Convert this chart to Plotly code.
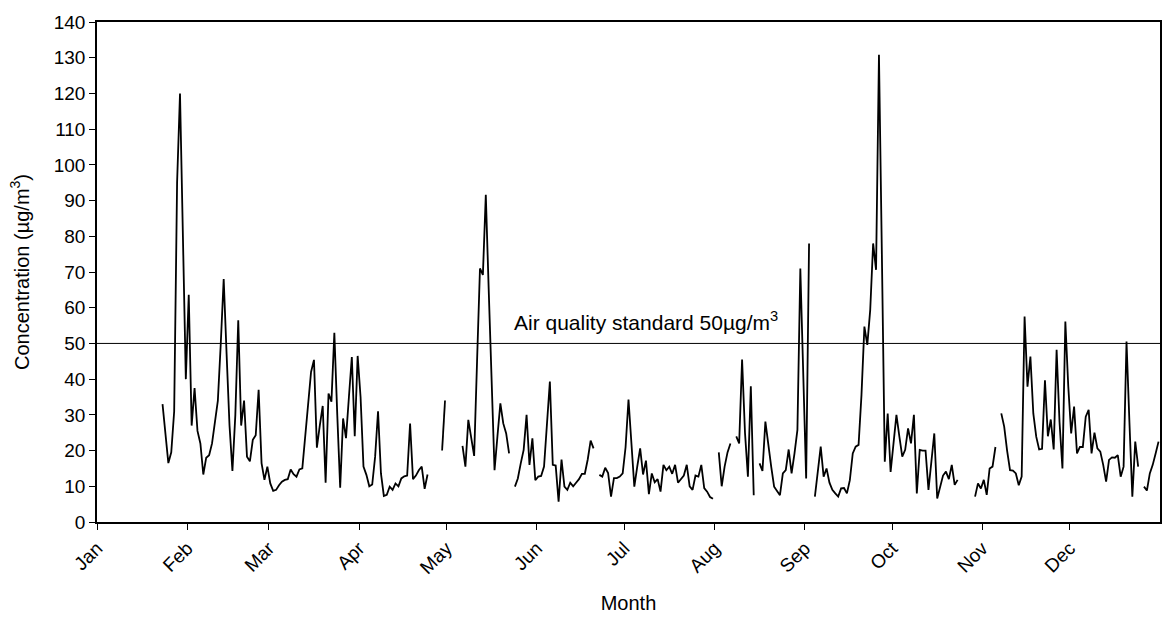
import datetime as dt
import plotly.graph_objects as go

year = 2007
month_names = ["Jan", "Feb", "Mar", "Apr", "May", "Jun",
               "Jul", "Aug", "Sep", "Oct", "Nov", "Dec"]

# daily concentration values (µg/m3), one entry per day, None = missing
jan = [None] * 22 + [33, 24, 16.5, 19.5, 31, 95, 120, 80, 40]
feb = [63.6, 27, 37.5, 25.5, 22, 13.3, 18, 18.7, 22, 28, 34, 50, 68, 47, 27, 14.3,
       30, 56.5, 27, 34, 18.3, 17, 23, 24.3, 37, 16.5, 11.8, 15.5]
mar = [10.8, 8.7, 9, 10.3, 11.3, 11.8, 12, 14.7, 13.4, 12.7, 14.7, 15, 24, 31.4, 42,
       45.4, 20.8, 27, 32.5, 11, 36, 33.7, 53, 30, 9.6, 29, 23.5, 35, 46.2, 24, 46.5]
apr = [35, 15.5, 13.2, 10, 10.5, 18.3, 31, 13.6, 7.3, 7.6, 9.9, 9, 10.8, 10, 12.2,
       12.8, 13, 27.6, 12, 13, 14.5, 15.5, 9.3, 13.3, None, None, None, None, 20, 34]
may = [None] * 5 + [21.3, 15.5, 28.6, 23.5, 18.5, 45, 71, 69.2, 91.6, 65, 40, 14.5,
                    24, 33.2, 27.6, 24.8, 19.2, None, 9.9, 12.2, 16.4, 20.2, 30, 16,
                    23.4, 11.7]
jun = [12.7, 12.9, 15.5, 28, 39.3, 16, 15.8, 5.7, 17.5, 9.9, 9, 11, 10, 11, 12, 13.5,
       13.5, 17.5, 22.8, 20.6, None, 13.2, 12.7, 15.2, 13.7, 7.1, 12.3, 12.3, 12.7, 13.6]
jul = [21, 34.3, 22, 9.9, 15.5, 20.6, 13.3, 17.2, 7.8, 13.6, 11.1, 12, 8.5, 16, 14.5,
       15.5, 13.5, 16, 11, 12, 13, 16, 10, 9, 13, 12.7, 16, 9.5, 8.5, 7, 6.5]
aug = [None, 19.5, 10, 15.5, 19.5, 22, None, 24, 22, 45.5, 25, 12.7, 38, 7.5, None,
       16.4, 14.3, 28.1, 21.1, 15.5, 9.9, 8.5, 7.5, 13.6, 14.5, 20.3, 13.6, 19.2, 25.8,
       71, 40]
sep = [12.2, 78, None, 7.1, 15, 21.1, 12.7, 15, 11, 9, 8, 7.1, 9.4, 9.5, 8, 11.7, 19.2,
       21.1, 21.6, 35.6, 54.7, 49.6, 59.4, 78, 70.6, 130.8, 75, 16.9, 30.4, 14]
oct_ = [22, 30, 24, 18.3, 20.2, 26.2, 22, 30, 8, 20.2, 20, 20, 9, 16, 24.8, 6.6, 10, 13,
        14.1, 12, 16, 10.4, 11.8, None, None, None, None, None, 7.1, 10.8, 9.4]
nov = [11.8, 7.6, 15, 15.5, 21, None, 30.4, 26.7, 20, 14.5, 14.4, 13.6, 10.3, 12.7,
       57.5, 37.9, 46.3, 30.4, 23.9, 20.3, 20.5, 39.7, 24, 28.7, 20.3, 48.2, 28, 15,
       56.1, 38]
dec = [24.8, 32.3, 19.2, 21, 21, 29.5, 31.4, 19.2, 25, 20.6, 19.7, 16, 11.3, 17.4, 18.1,
       18, 18.7, 12.7, 15.5, 50.5, 28, 7.1, 22.5, 15.5, None, 9.9, 8.8, 13.6, 16, 19.2,
       22.5]

standard = 50
monthly = [jan, feb, mar, apr, may, jun, jul, aug, sep, oct_, nov, dec]

dates, vals = [], []
for m, arr in enumerate(monthly, start=1):
    for i, v in enumerate(arr):
        dates.append(dt.datetime(year, m, i + 1, 12))
        vals.append(v)

FONT = "Liberation Sans, Arial, sans-serif"

fig = go.Figure()
fig.add_trace(go.Scatter(x=dates, y=vals, mode="lines",
                         line=dict(color="black", width=1.8),
                         connectgaps=False, showlegend=False))

fig.add_shape(type="line", xref="paper", x0=0, x1=1, yref="y", y0=standard, y1=standard,
              line=dict(color="black", width=1))
fig.add_annotation(xref="paper", x=0.516, yref="y", y=standard, yanchor="bottom", yshift=7,
                   text="Air quality standard 50µg/m<sup>3</sup>", showarrow=False,
                   font=dict(family=FONT, size=21, color="black"))

tickvals = [dt.datetime(year, m, 1) for m in range(1, 13)]

fig.update_layout(
    width=1163, height=617,
    margin=dict(l=97, r=1, t=22, b=95),
    paper_bgcolor="white", plot_bgcolor="white",
    font=dict(family=FONT, size=20, color="black"),
    xaxis=dict(range=[dt.datetime(year, 1, 1), dt.datetime(year + 1, 1, 1)],
               tickvals=tickvals, ticktext=month_names, tickangle=-45,
               tickfont=dict(size=19),
               ticks="outside", ticklen=6, tickcolor="black",
               showline=True, linecolor="black", linewidth=1.5, mirror=True,
               showgrid=False, zeroline=False,
               title=dict(text="Month", standoff=19, font=dict(size=20))),
    yaxis=dict(range=[0, 140], dtick=10, ticks="outside", ticklen=6, tickcolor="black",
               tickfont=dict(size=19),
               showline=True, linecolor="black", linewidth=1.5, mirror=True,
               showgrid=False, zeroline=False,
               title=dict(text="Concentration (µg/m<sup>3</sup>)", standoff=19,
                          font=dict(size=20))),
)

fig.write_html("out.html")
